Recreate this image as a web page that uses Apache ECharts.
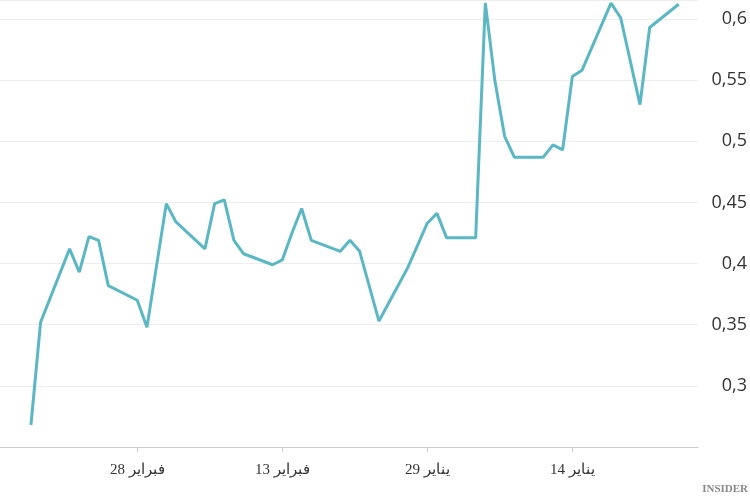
<!DOCTYPE html>
<html>
<head>
<meta charset="utf-8">
<script src="https://cdn.jsdelivr.net/npm/echarts@6/dist/echarts.min.js"></script>
<style>
  html, body { margin: 0; padding: 0; background: #fff; }
  #chart { width: 750px; height: 499px; }
</style>
</head>
<body>
<div id="chart"></div>
<script>
// dates (2024) and values
const dates = [
  "2024-01-03", "2024-01-06", "2024-01-07", "2024-01-09", "2024-01-10",
  "2024-01-13", "2024-01-14", "2024-01-15", "2024-01-16", "2024-01-17",
  "2024-01-20", "2024-01-21", "2024-01-22", "2024-01-23", "2024-01-24",
  "2024-01-27", "2024-01-28", "2024-01-29", "2024-01-31", "2024-02-03",
  "2024-02-05", "2024-02-06", "2024-02-07", "2024-02-10", "2024-02-11",
  "2024-02-12", "2024-02-13", "2024-02-14", "2024-02-17", "2024-02-18",
  "2024-02-19", "2024-02-20", "2024-02-21", "2024-02-24", "2024-02-25",
  "2024-02-27", "2024-02-28", "2024-03-02", "2024-03-03", "2024-03-04",
  "2024-03-05", "2024-03-06", "2024-03-09", "2024-03-10"
];
const values = [
  0.612, 0.593, 0.530, 0.601, 0.613,
  0.558, 0.553, 0.493, 0.497, 0.487,
  0.487, 0.504, 0.549, 0.613, 0.421,
  0.421, 0.441, 0.433, 0.397, 0.353,
  0.410, 0.419, 0.410, 0.419, 0.445,
  0.425, 0.403, 0.399, 0.408, 0.419,
  0.452, 0.449, 0.412, 0.434, 0.449,
  0.348, 0.370, 0.382, 0.419, 0.422,
  0.393, 0.412, 0.352, 0.268
];
const tickDates = ["2024-01-14", "2024-01-29", "2024-02-13", "2024-02-28"];
const monthNames = ["يناير", "فبراير", "مارس"];

// day number counted from 1 Jan 2024
const DAY = 86400000;
const start = Date.UTC(2024, 0, 1);
const dayOf = s => (Date.parse(s + "T00:00:00Z") - start) / DAY;
const tickDays = tickDates.map(dayOf);

const chart = echarts.init(document.getElementById("chart"));

chart.setOption({
  animation: false,
  grid: { left: 0, right: 52, top: 0, bottom: 52 },
  xAxis: {
    type: "value",
    inverse: true,
    min: 0,
    max: 72.2,
    axisLine: { lineStyle: { color: "#ccc" } },
    axisTick: { show: true, customValues: tickDays, length: 5, lineStyle: { color: "#ccc" } },
    axisLabel: {
      customValues: tickDays,
      margin: 16,
      fontFamily: "Liberation Serif",
      fontSize: 15,
      color: "#333",
      formatter: v => {
        const d = new Date(start + Math.round(v) * DAY);
        return d.getUTCDate() + " " + monthNames[d.getUTCMonth()];
      }
    },
    splitLine: { show: false }
  },
  yAxis: {
    type: "value",
    position: "right",
    min: 0.25,
    max: 0.6155,
    interval: 0.05,
    axisLine: { show: false },
    axisTick: { show: false },
    splitLine: { lineStyle: { color: "#eee" } },
    axisLabel: {
      showMinLabel: false,
      showMaxLabel: false,
      align: "right",
      margin: 49,
      fontFamily: "Open Sans",
      fontSize: 18,
      color: "#333",
      formatter: v => String(+v.toFixed(2)).replace(".", ",")
    }
  },
  graphic: [{
    type: "text",
    right: 2,
    bottom: 4,
    style: { text: "INSIDER", font: "bold 11px 'Liberation Serif'", fill: "#888" }
  }],
  series: [{
    type: "line",
    data: dates.map((d, i) => [dayOf(d), values[i]]),
    showSymbol: false,
    lineStyle: { color: "#5bb7c3", width: 3 },
    itemStyle: { color: "#5bb7c3" }
  }]
});
</script>
</body>
</html>
